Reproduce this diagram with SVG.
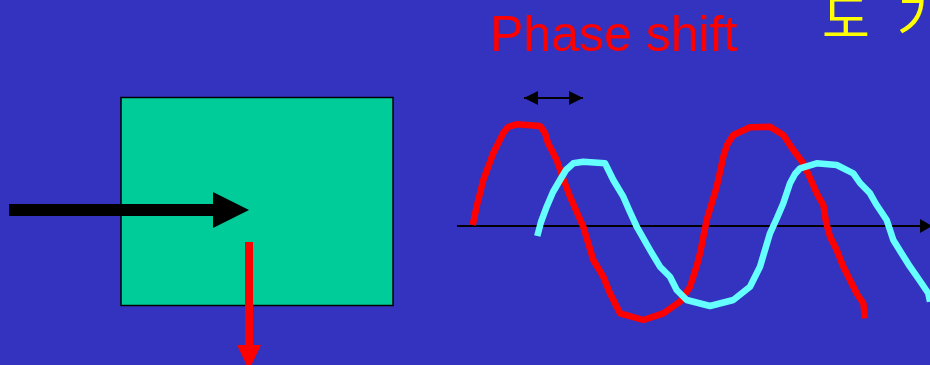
<svg xmlns="http://www.w3.org/2000/svg" width="930" height="365" viewBox="0 0 930 365">
<style>
.wave{fill:none;stroke-width:6.5;stroke-linejoin:round;stroke-linecap:butt}
.red{stroke:#FF0000}
.cyan{stroke:#66FFFF}
.lbl{font-family:"Liberation Sans",Arial,sans-serif}
</style>
<defs>
<marker id="smallHead" viewBox="0 0 10 10" refX="10" refY="5" markerWidth="15" markerHeight="14" markerUnits="userSpaceOnUse" orient="auto-start-reverse">
<path d="M0,0 L10,5 L0,10 Z" fill="#000"/>
</marker>
</defs>
<rect width="930" height="365" fill="#3333C0"/>
<g id="box">
<rect x="121" y="97.5" width="272" height="208" fill="#00CC99" stroke="#000" stroke-width="1.5"/>
</g>
<g id="title">
<text class="lbl" x="490" y="51" font-size="50" fill="#FF0000">Phase shift</text>
</g>
<g id="korean">
<text y="38" font-size="52" fill="#FFFF00" font-family="'Noto Sans CJK KR',sans-serif"><tspan x="822">도</tspan><tspan x="897">가</tspan></text>
</g>
<g id="axis">
<line x1="457" y1="226" x2="922" y2="226" stroke="#000" stroke-width="2"/>
<path d="M920,219 L932,226 L920,233 Z" fill="#000"/>
</g>
<g id="waves">
<path class="wave red" d="M472.7,225 L477,205 L483.3,180 L493.3,153 L503.3,133 L508,127 L516.7,124.3 L540,126 L545,133 L548,143 L556.7,160 L563,178 L570,196.7 L583.3,226.7 L593.3,260 L603.3,276.7 L610,293.3 L620,313.3 L643.3,320 L663.3,313.3 L680,301.7 L690,286.7 L697,265 L700,253.3 L706.7,220 L716.7,186.7 L723.3,156.7 L727,145 L733.3,135 L750,127.3 L770,126.7 L783.3,135 L793.3,150 L803.3,163.3 L810,178 L816.7,193.3 L823.3,205 L826,222 L830,236.7 L836.7,250 L843,266 L850,280 L857,294 L863.3,303.3 L865,318.3"/>
<path class="wave cyan" d="M537.3,236 L541,222 L546.7,206.7 L553,192 L560,180 L566,170 L573.3,163.3 L583.3,161.7 L605,163.3 L613.3,180 L623.3,196.7 L630,212 L636.7,226.7 L650,250 L660,266.7 L670,276.7 L676.7,290 L686.7,300 L710,306 L733.3,300 L750,286.7 L760,266.7 L765,250 L770,233.3 L777,218 L783.3,203.3 L790,183.3 L795,174 L800,168.3 L816.7,163.3 L836.7,165 L853.3,173.3 L860,183 L870,193.3 L876,204 L880,210 L886.7,220 L890,230 L893.3,240 L902,254 L910,266.7 L920,281 L928.3,293.3 L930,301.7"/>
</g>
<g id="connectors">
<line x1="9" y1="210" x2="215" y2="210" stroke="#000" stroke-width="12"/>
<path d="M213,192 L249,210 L213,228 Z" fill="#000"/>
<line x1="249" y1="242" x2="249" y2="348" stroke="#FF0000" stroke-width="8"/>
<path d="M237,345 L261,345 L249,370 Z" fill="#FF0000"/>
<line x1="524" y1="98" x2="583" y2="98" stroke="#000" stroke-width="2" marker-start="url(#smallHead)" marker-end="url(#smallHead)"/>
</g>
</svg>
